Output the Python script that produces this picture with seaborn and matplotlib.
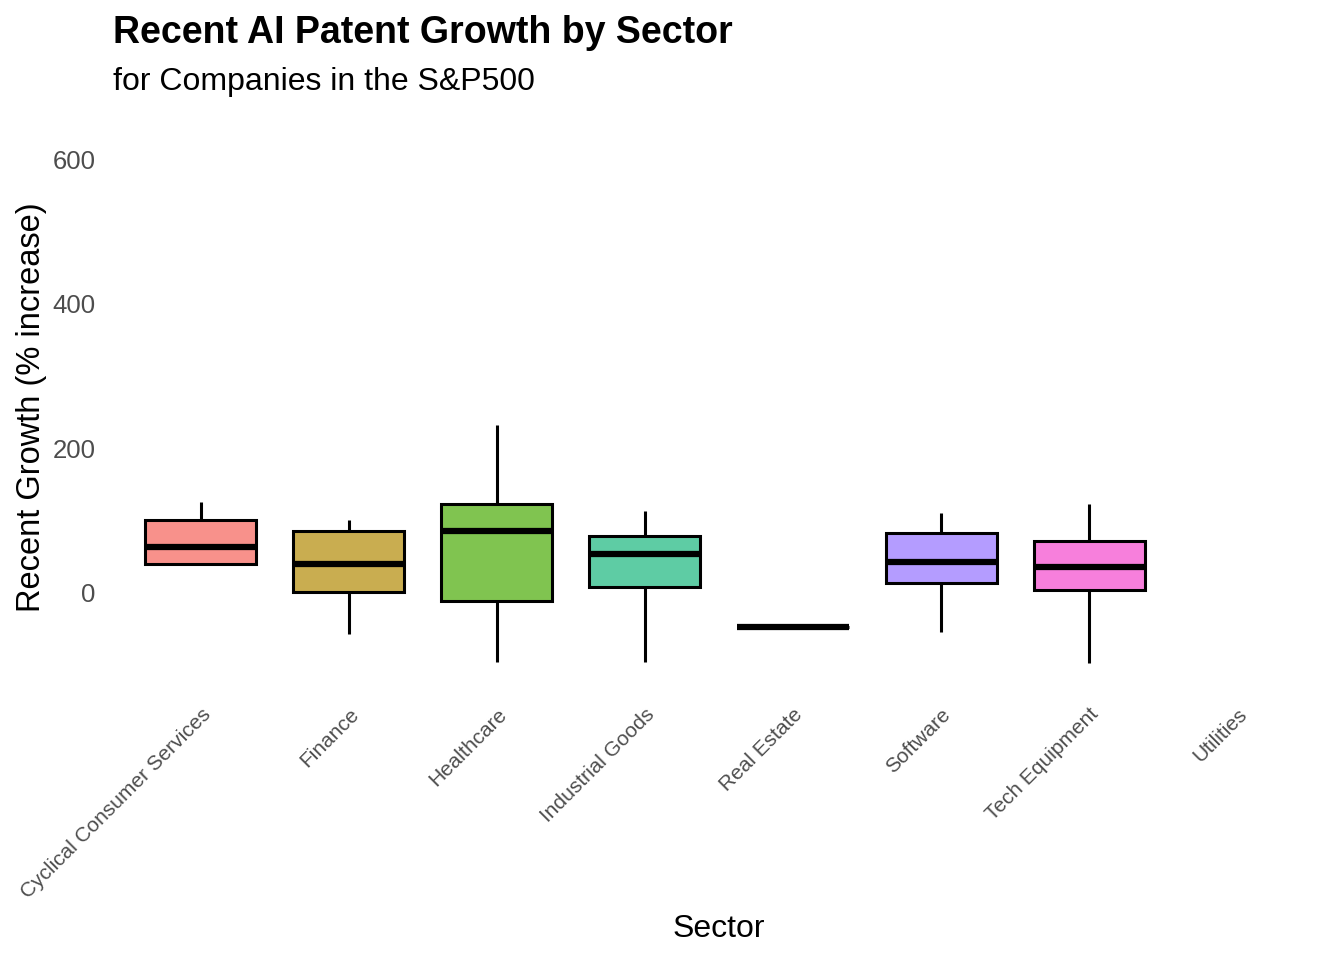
import matplotlib
matplotlib.use("Agg")
import matplotlib.pyplot as plt
import seaborn as sns
import pandas as pd

# summary values (% increase)
sectors = ["Cyclical Consumer Services", "Finance", "Healthcare", "Industrial Goods",
           "Real Estate", "Software", "Tech Equipment", "Utilities"]
whisker_low = [40, -57, -96, -96, -48, -54, -97, None]
q1 = [40, 1, -11, 8, -48, 14, 4, None]
median = [64, 40, 86, 53, -48, 42, 36, None]
q3 = [101, 86, 123, 79, -48, 83, 72, None]
whisker_high = [126, 101, 232, 113, -48, 111, 123, None]
colours = ["#F8918B", "#C9AD50", "#80C450", "#5ECCA4",
           "#62CFD3", "#B49CFF", "#F77FDC", "#FF8FD0"]

rows = []
for i, s in enumerate(sectors):
    if median[i] is None:
        continue
    for v in (whisker_low[i], q1[i], median[i], q3[i], whisker_high[i]):
        rows.append({"Sector": s, "Growth": v})
df = pd.DataFrame(rows)

sns.set_theme(style="white")
plt.rcParams["font.family"] = ["Liberation Sans", "DejaVu Sans"]
plt.rcParams["text.color"] = "black"
plt.rcParams["axes.labelcolor"] = "black"

fig = plt.figure(figsize=(13.44, 9.6), dpi=100)
ax = fig.add_axes([0.0833, 0.2833, 0.9033, 0.5844])

sns.boxplot(data=df, x="Sector", y="Growth", hue="Sector", order=sectors,
            hue_order=sectors, palette=dict(zip(sectors, colours)),
            legend=False, width=0.75, saturation=1, whis=(0, 100),
            showfliers=False, showcaps=False, linewidth=2.2, linecolor="black",
            medianprops={"linewidth": 4.5, "color": "black"},
            ax=ax)

ax.set_ylim(-132, 645)
ax.set_xlim(-0.6, 7.6)
ax.set_yticks([0, 200, 400, 600])
for sp in ax.spines.values():
    sp.set_visible(False)
ax.tick_params(axis="both", length=0)
ax.tick_params(axis="y", labelsize=18.5, labelcolor="#4D4D4D", pad=12)
ax.tick_params(axis="x", labelsize=15, labelcolor="#4D4D4D", pad=12)
plt.setp(ax.get_xticklabels(), rotation=45, ha="right", va="top", rotation_mode="anchor")

ax.set_xlabel("Sector", fontsize=23, labelpad=9)
ax.set_ylabel("Recent Growth (% increase)", fontsize=23.5, labelpad=4)

fig.text(0.084, 0.966, "Recent AI Patent Growth by Sector", fontsize=27,
         fontweight="bold", ha="left", va="center")
fig.text(0.084, 0.915, "for Companies in the S&P500", fontsize=23,
         ha="left", va="center")

fig.savefig("out.png", dpi=100)
